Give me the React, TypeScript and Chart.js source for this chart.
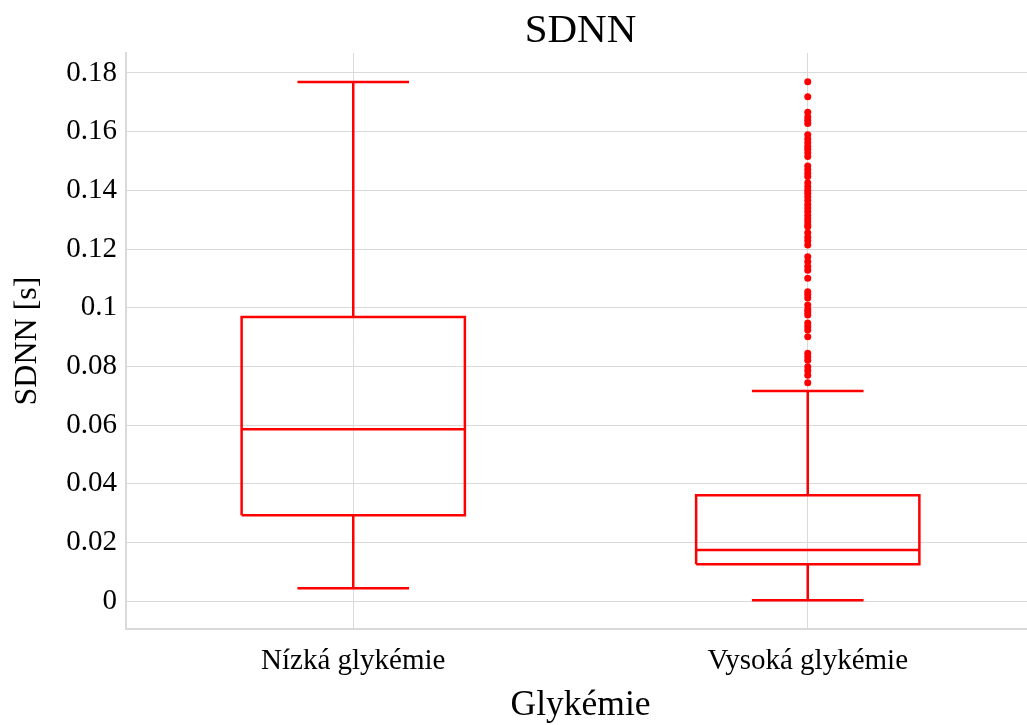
import React, { useEffect, useRef } from "react";
import { Chart, registerables } from "chart.js";

Chart.register(...registerables);

const categories = ["Nízká glykémie", "Vysoká glykémie"];
const lowerWhisker = [0.0044, 0.0003];
const q1 = [0.0293, 0.0126];
const median = [0.0586, 0.0174];
const q3 = [0.0968, 0.0361];
const upperWhisker = [0.1769, 0.0716];
const outliersLow: number[] = [];
const outliersHigh = [
  0.177, 0.1719, 0.1666, 0.165, 0.1639, 0.1628, 0.1589, 0.1575, 0.1562, 0.155,
  0.154, 0.1528, 0.1515, 0.1483, 0.147, 0.1458, 0.1447, 0.1426, 0.1412, 0.14,
  0.139, 0.1378, 0.1365, 0.1352, 0.134, 0.1328, 0.1315, 0.1303, 0.1293, 0.1282,
  0.1276, 0.1255, 0.124, 0.1228, 0.1214, 0.1174, 0.1157, 0.114, 0.1128, 0.11,
  0.1054, 0.1045, 0.1033, 0.1009, 0.0995, 0.0985, 0.0975, 0.0948, 0.0936,
  0.0924, 0.0901, 0.0845, 0.0833, 0.0821, 0.0799, 0.0785, 0.077, 0.0744,
];
const outliers = [outliersLow, outliersHigh];
const yTickValues = [0, 0.02, 0.04, 0.06, 0.08, 0.1, 0.12, 0.14, 0.16, 0.18];

const RED = "#ff0000";
const GRID = "rgb(218,218,218)";
const FONT = "'Liberation Serif', 'Times New Roman', serif";

export default function App() {
  const ref = useRef<HTMLCanvasElement | null>(null);
  useEffect(() => {
    if (!ref.current) return;
    const hw = 0.2456;
    const cw = 0.1228;
    const datasets: any[] = [];
    categories.forEach((_, i) => {
      const c = i;
      const lineDs = (data: any[]) => ({
        data,
        showLine: true,
        borderColor: RED,
        borderWidth: 2.5,
        pointRadius: 0,
        fill: false,
        spanGaps: false,
        tension: 0,
      });
      datasets.push(
        lineDs([
          { x: c - hw, y: q1[i] },
          { x: c + hw, y: q1[i] },
          { x: c + hw, y: q3[i] },
          { x: c - hw, y: q3[i] },
          { x: c - hw, y: q1[i] },
        ])
      );
      datasets.push(lineDs([{ x: c - hw, y: median[i] }, { x: c + hw, y: median[i] }]));
      datasets.push(lineDs([{ x: c, y: q3[i] }, { x: c, y: upperWhisker[i] }]));
      datasets.push(lineDs([{ x: c, y: q1[i] }, { x: c, y: lowerWhisker[i] }]));
      datasets.push(lineDs([{ x: c - cw, y: upperWhisker[i] }, { x: c + cw, y: upperWhisker[i] }]));
      datasets.push(lineDs([{ x: c - cw, y: lowerWhisker[i] }, { x: c + cw, y: lowerWhisker[i] }]));
      datasets.push({
        data: outliers[i].map((v) => ({ x: c, y: v })),
        showLine: false,
        pointRadius: 3.5,
        pointBackgroundColor: RED,
        pointBorderWidth: 0,
        borderColor: RED,
      });
    });

    const chart = new Chart(ref.current, {
      type: "scatter",
      data: { datasets },
      options: {
        animation: false,
        responsive: false,
        layout: { padding: 0 },
        plugins: {
          legend: { display: false },
          tooltip: { enabled: false },
          title: {
            display: true,
            text: "SDNN",
            fullSize: false,
            color: "#000",
            font: { family: FONT, size: 41, weight: "normal", lineHeight: 0.9 },
            padding: { top: 13, bottom: 3.1 },
          },
        },
        scales: {
          x: {
            type: "linear",
            min: -0.5,
            max: 1.5,
            afterBuildTicks: (scale: any) => {
              scale.ticks = categories.map((_, i) => ({ value: i }));
            },
            afterFit: (scale: any) => {
              scale.height = 96;
            },
            ticks: {
              callback: (v: any) => categories[Math.round(Number(v))] ?? "",
              color: "#000",
              font: { family: FONT, size: 29 },
              padding: 15,
              maxRotation: 0,
              autoSkip: false,
            },
            grid: { color: GRID, lineWidth: 1, drawTicks: false },
            border: { display: true, color: GRID, width: 2 },
            title: {
              display: true,
              text: "Glykémie",
              color: "#000",
              font: { family: FONT, size: 35.5, lineHeight: 1.0 },
              padding: { top: 0, bottom: 2 },
            },
          },
          y: {
            type: "linear",
            min: -0.0095,
            max: 0.1868,
            afterBuildTicks: (scale: any) => {
              scale.ticks = yTickValues.map((v) => ({ value: v }));
            },
            afterFit: (scale: any) => {
              scale.width = 126;
            },
            ticks: {
              callback: (v: any) => String(Number(Number(v).toFixed(4))),
              color: "#000",
              font: { family: FONT, size: 29 },
              padding: 9,
              autoSkip: false,
            },
            grid: { color: GRID, lineWidth: 1, drawTicks: false },
            border: { display: true, color: GRID, width: 2 },
            title: {
              display: true,
              text: "SDNN [s]",
              color: "#000",
              font: { family: FONT, size: 32 },
              padding: { top: 8, bottom: 0 },
            },
          },
        },
      } as any,
    });
    return () => chart.destroy();
  }, []);

  return (
    <div
      style={{
        position: "absolute",
        left: 0,
        top: 0,
        width: 1027,
        height: 725,
        overflow: "hidden",
        background: "#fff",
      }}
    >
      <canvas ref={ref} width={1039} height={725} style={{ display: "block" }} />
    </div>
  );
}
